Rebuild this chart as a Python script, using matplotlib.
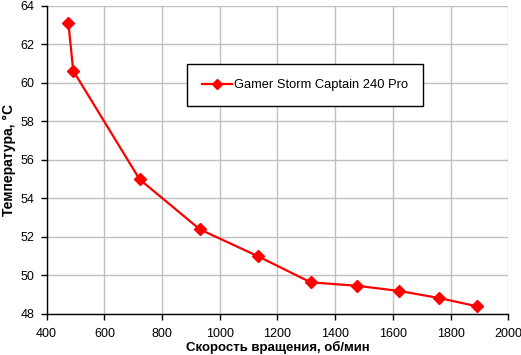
import matplotlib
matplotlib.use("Agg")
import matplotlib.pyplot as plt

rpm = [475, 492, 722, 931, 1133, 1315, 1477, 1622, 1759, 1893]
temp = [63.12, 60.62, 54.98, 52.38, 50.98, 49.63, 49.45, 49.18, 48.82, 48.38]
series_name = "Gamer Storm Captain 240 Pro"
xticks = [400, 600, 800, 1000, 1200, 1400, 1600, 1800, 2000]
yticks = [48, 50, 52, 54, 56, 58, 60, 62, 64]

plt.rcParams['font.family'] = ['Liberation Sans', 'DejaVu Sans']

fig = plt.figure(figsize=(5.21, 3.55), dpi=100)
ax = fig.add_axes([0.0896, 0.1163, 0.9756 - 0.0896, 0.984 - 0.1163])

ax.plot(rpm, temp, color='#ff0000', lw=1.6, marker='D', ms=6.5,
        markerfacecolor='#ff0000', markeredgecolor='#ff0000', label=series_name, zorder=3)

ax.set_xlim(400, 2000)
ax.set_ylim(48, 64)
ax.set_xticks(xticks)
ax.set_yticks(yticks)
ax.grid(True, color='#c0c0c0', lw=1)
ax.set_axisbelow(True)
for s in ['top', 'right']:
    ax.spines[s].set_visible(False)
for s in ['left', 'bottom']:
    ax.spines[s].set_color('black')
    ax.spines[s].set_linewidth(1)
ax.tick_params(direction='out', length=4, width=1, labelsize=9)
ax.tick_params(axis='x', pad=6)
ax.tick_params(axis='y', pad=5)

ax.set_xlabel('Скорость вращения, об/мин', fontsize=9.5, fontweight='bold', labelpad=1)
ax.set_ylabel('Температура, °С', fontsize=10, fontweight='bold', labelpad=3)

leg = ax.legend(loc='upper left', bbox_to_anchor=((187.3 - 46.7) / 461.6, 1 - (64.3 - 5.7) / 308),
                frameon=True, fancybox=False, fontsize=9.3, borderpad=1.15,
                handlelength=2.3, handletextpad=0.2, borderaxespad=0, markerscale=0.8)
leg.get_frame().set_edgecolor('black')
leg.get_frame().set_linewidth(1)
leg.get_frame().set_alpha(1)

fig.savefig('out.png', dpi=100)
